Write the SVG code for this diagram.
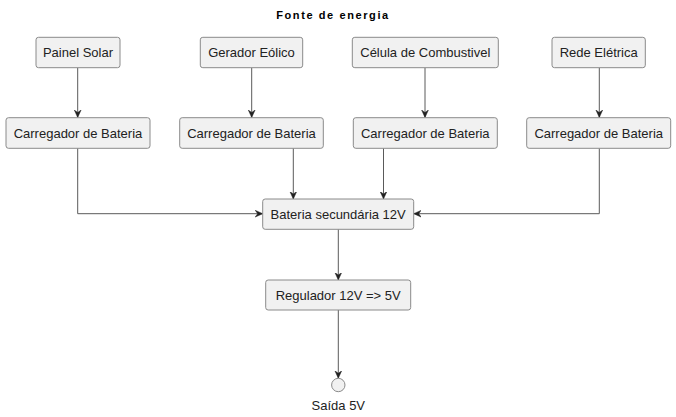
<svg xmlns="http://www.w3.org/2000/svg" width="676" height="417" viewBox="0 0 676 417">
<defs>
<style>
.box{fill:#F1F1F1;stroke:#8A8A8A;stroke-width:1}
.lbl{font-family:"Liberation Sans",Arial,sans-serif;font-size:13px;fill:#222;text-anchor:middle}
.title{font-family:"Liberation Sans",Arial,sans-serif;font-size:11px;font-weight:bold;letter-spacing:1.6px;fill:#000;text-anchor:middle}
.edge{fill:none;stroke:#5a5a5a;stroke-width:1}
</style>
<marker id="arr" viewBox="0 0 8 8" refX="7.5" refY="4" markerWidth="8" markerHeight="8" markerUnits="userSpaceOnUse" orient="auto">
<polygon points="0,0.6 7.5,4 0,7.4 2.5,4" fill="#222" stroke="#222" stroke-width="0.5"/>
</marker>
</defs>
<rect width="676" height="417" fill="#FFFFFF"/>
<text class="title" x="333" y="19">Fonte de energia</text>
<g id="connectors">
<path class="edge" d="M77.7,67.7 V117.5" marker-end="url(#arr)"/>
<path class="edge" d="M251.7,67.7 V117.5" marker-end="url(#arr)"/>
<path class="edge" d="M425,67.7 V117.5" marker-end="url(#arr)"/>
<path class="edge" d="M599.3,67.7 V117.5" marker-end="url(#arr)"/>
<path class="edge" d="M77.7,148.3 V213.7 H262.7" marker-end="url(#arr)"/>
<path class="edge" d="M293.3,148.3 V199" marker-end="url(#arr)"/>
<path class="edge" d="M383.5,148.3 V199" marker-end="url(#arr)"/>
<path class="edge" d="M599.3,148.3 V213.7 H413.7" marker-end="url(#arr)"/>
<path class="edge" d="M338.3,229.3 V280" marker-end="url(#arr)"/>
<path class="edge" d="M338.3,310 V378.3" marker-end="url(#arr)"/>
</g>
<g id="painel"><rect class="box" x="36" y="37.3" width="84" height="30.4" rx="2.5"/><text class="lbl" x="78" y="57">Painel Solar</text></g>
<g id="gerador"><rect class="box" x="200.3" y="37.3" width="102.4" height="30.4" rx="2.5"/><text class="lbl" x="251.5" y="57">Gerador Eólico</text></g>
<g id="celula"><rect class="box" x="352.3" y="37.3" width="146" height="30.4" rx="2.5"/><text class="lbl" x="425.3" y="57">Célula de Combustivel</text></g>
<g id="rede"><rect class="box" x="552" y="37.3" width="93.3" height="30.4" rx="2.5"/><text class="lbl" x="598.7" y="57">Rede Elétrica</text></g>
<g id="carregador1"><rect class="box" x="6" y="117.7" width="144" height="30.6" rx="2.5"/><text class="lbl" x="78" y="137.5">Carregador de Bateria</text></g>
<g id="carregador2"><rect class="box" x="179.7" y="117.7" width="143.6" height="30.6" rx="2.5"/><text class="lbl" x="251.5" y="137.5">Carregador de Bateria</text></g>
<g id="carregador3"><rect class="box" x="353.3" y="117.7" width="144" height="30.6" rx="2.5"/><text class="lbl" x="425.3" y="137.5">Carregador de Bateria</text></g>
<g id="carregador4"><rect class="box" x="526.7" y="117.7" width="144" height="30.6" rx="2.5"/><text class="lbl" x="598.7" y="137.5">Carregador de Bateria</text></g>
<g id="bateria"><rect class="box" x="262.7" y="199" width="151" height="30.3" rx="2.5"/><text class="lbl" x="338.2" y="218.7">Bateria secundária 12V</text></g>
<g id="regulador"><rect class="box" x="265.7" y="280" width="145" height="30" rx="2.5"/><text class="lbl" x="338.2" y="299.7">Regulador 12V =&gt; 5V</text></g>
<g id="saida"><circle cx="338.3" cy="385" r="6.7" fill="#F1F1F1" stroke="#8A8A8A" stroke-width="1"/><text class="lbl" x="338.3" y="410">Saída 5V</text></g>
</svg>
